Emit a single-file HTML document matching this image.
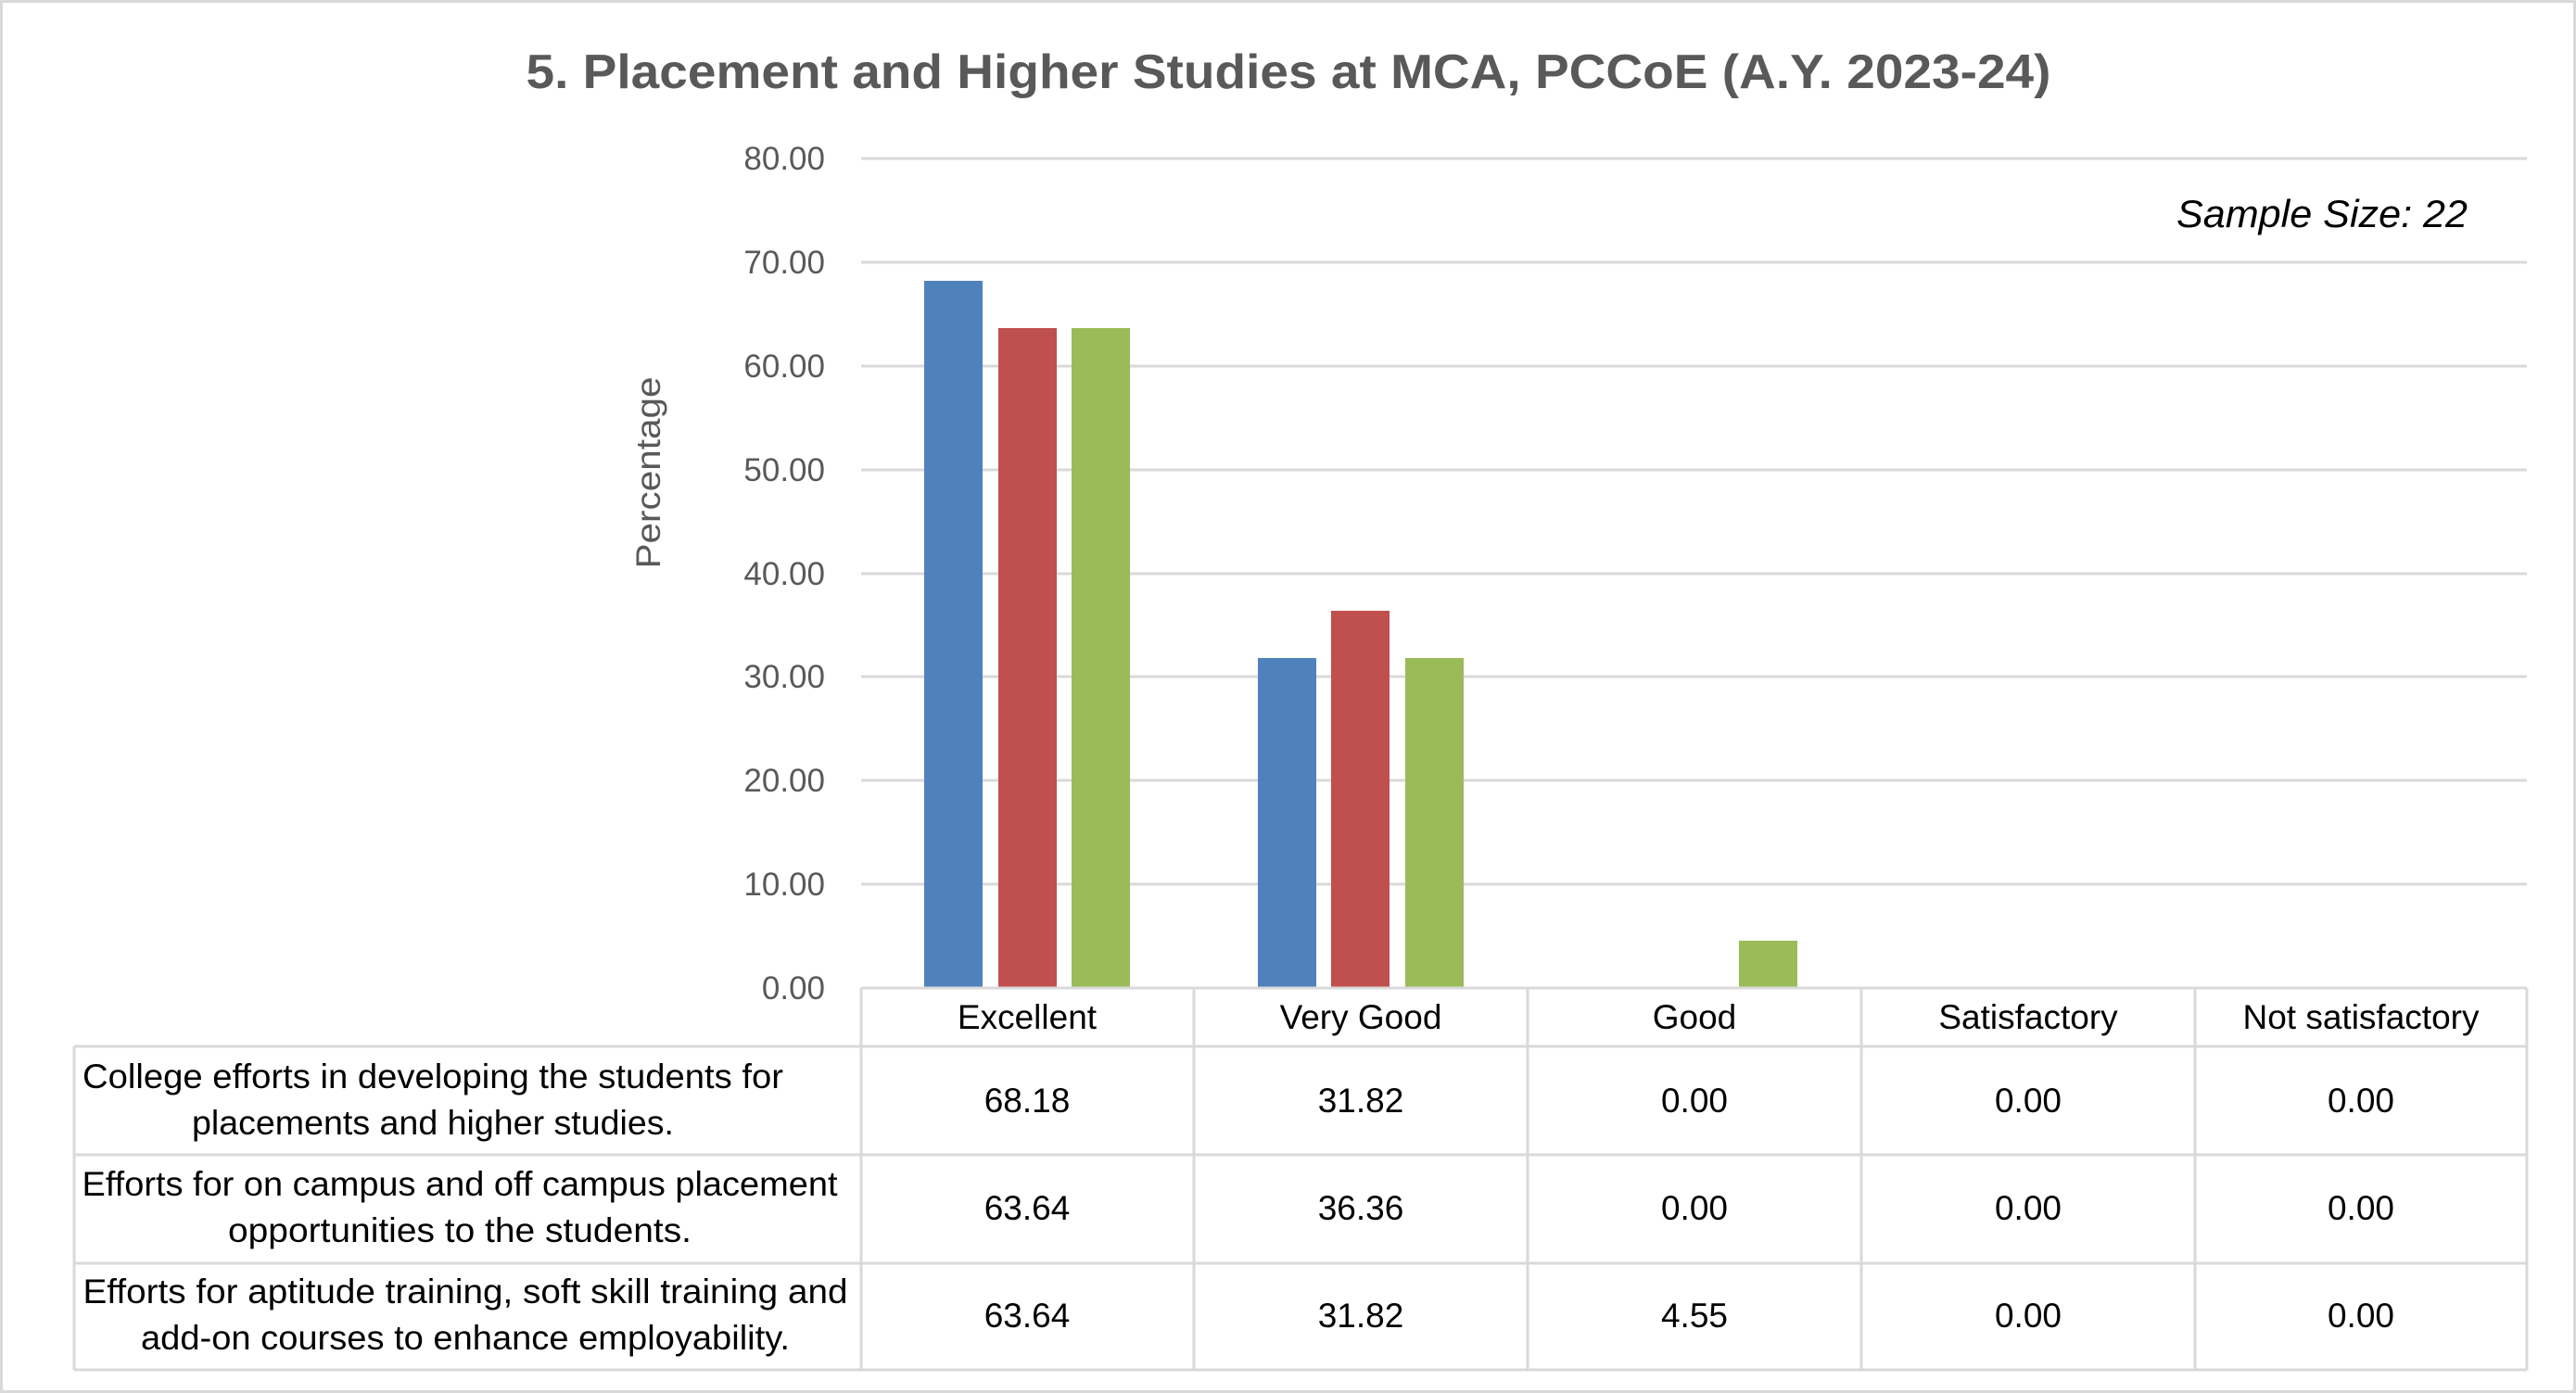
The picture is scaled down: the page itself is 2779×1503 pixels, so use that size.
<!DOCTYPE html>
<html><head><meta charset="utf-8"><style>
html,body{margin:0;padding:0;background:#fff;}
svg{display:block;font-family:"Liberation Sans",sans-serif;}
</style></head><body>
<svg width="2779" height="1503" viewBox="0 0 2779 1503">
<rect x="1.5" y="1.5" width="2776" height="1500" fill="#fff" stroke="#d9d9d9" stroke-width="3"/>
<text x="1390" y="95" text-anchor="middle" font-size="52" font-weight="bold" fill="#595959" textLength="1645" lengthAdjust="spacingAndGlyphs">5. Placement and Higher Studies at MCA, PCCoE (A.Y. 2023-24)</text>
<g stroke="#d9d9d9" stroke-width="3">
<line x1="929" y1="171" x2="2726" y2="171"/>
<line x1="929" y1="283" x2="2726" y2="283"/>
<line x1="929" y1="395" x2="2726" y2="395"/>
<line x1="929" y1="507" x2="2726" y2="507"/>
<line x1="929" y1="619" x2="2726" y2="619"/>
<line x1="929" y1="730" x2="2726" y2="730"/>
<line x1="929" y1="842" x2="2726" y2="842"/>
<line x1="929" y1="954" x2="2726" y2="954"/>
</g>
<g font-size="35" fill="#595959" text-anchor="end">
<text x="890" y="183">80.00</text>
<text x="890" y="295">70.00</text>
<text x="890" y="407">60.00</text>
<text x="890" y="519">50.00</text>
<text x="890" y="631">40.00</text>
<text x="890" y="742">30.00</text>
<text x="890" y="854">20.00</text>
<text x="890" y="966">10.00</text>
<text x="890" y="1078">0.00</text>
</g>
<text transform="translate(712,510) rotate(-90)" text-anchor="middle" font-size="37" fill="#595959" textLength="207" lengthAdjust="spacingAndGlyphs">Percentage</text>
<text x="2662" y="245" text-anchor="end" font-size="42" font-style="italic" fill="#000" textLength="314" lengthAdjust="spacingAndGlyphs">Sample Size: 22</text>
<g>
<rect x="997" y="303" width="63" height="763" fill="#4f81bd"/>
<rect x="1077" y="354" width="63" height="712" fill="#c0504d"/>
<rect x="1156" y="354" width="63" height="712" fill="#9bbb59"/>
<rect x="1357" y="710" width="63" height="356" fill="#4f81bd"/>
<rect x="1436" y="659" width="63" height="407" fill="#c0504d"/>
<rect x="1516" y="710" width="63" height="356" fill="#9bbb59"/>
<rect x="1876" y="1015" width="63" height="51" fill="#9bbb59"/>
</g>
<g stroke="#d9d9d9" stroke-width="3" fill="none">
<line x1="929" y1="1066" x2="2726" y2="1066"/>
<line x1="80" y1="1129" x2="2726" y2="1129"/>
<line x1="80" y1="1246" x2="2726" y2="1246"/>
<line x1="80" y1="1363" x2="2726" y2="1363"/>
<line x1="80" y1="1478" x2="2726" y2="1478"/>
<line x1="80" y1="1129" x2="80" y2="1478"/>
<line x1="929" y1="1066" x2="929" y2="1478"/>
<line x1="1288" y1="1066" x2="1288" y2="1478"/>
<line x1="1648" y1="1066" x2="1648" y2="1478"/>
<line x1="2008" y1="1066" x2="2008" y2="1478"/>
<line x1="2368" y1="1066" x2="2368" y2="1478"/>
<line x1="2726" y1="1066" x2="2726" y2="1478"/>
</g>
<g font-size="37" fill="#000" text-anchor="middle">
<text x="1108" y="1110">Excellent</text>
<text x="1468" y="1110">Very Good</text>
<text x="1828" y="1110">Good</text>
<text x="2188" y="1110">Satisfactory</text>
<text x="2547" y="1110">Not satisfactory</text>
<text x="1108" y="1200">68.18</text><text x="1468" y="1200">31.82</text><text x="1828" y="1200">0.00</text><text x="2188" y="1200">0.00</text><text x="2547" y="1200">0.00</text>
<text x="1108" y="1316">63.64</text><text x="1468" y="1316">36.36</text><text x="1828" y="1316">0.00</text><text x="2188" y="1316">0.00</text><text x="2547" y="1316">0.00</text>
<text x="1108" y="1432">63.64</text><text x="1468" y="1432">31.82</text><text x="1828" y="1432">4.55</text><text x="2188" y="1432">0.00</text><text x="2547" y="1432">0.00</text>
<text x="467" y="1174" textLength="756" lengthAdjust="spacingAndGlyphs">College efforts in developing the students for</text>
<text x="467" y="1224" textLength="520" lengthAdjust="spacingAndGlyphs">placements and higher studies.</text>
<text x="496" y="1290" textLength="815" lengthAdjust="spacingAndGlyphs">Efforts for on campus and off campus placement</text>
<text x="496" y="1340" textLength="500" lengthAdjust="spacingAndGlyphs">opportunities to the students.</text>
<text x="502" y="1406" textLength="825" lengthAdjust="spacingAndGlyphs">Efforts for aptitude training, soft skill training and</text>
<text x="502" y="1456" textLength="700" lengthAdjust="spacingAndGlyphs">add-on courses to enhance employability.</text>
</g>
</svg>
</body></html>
